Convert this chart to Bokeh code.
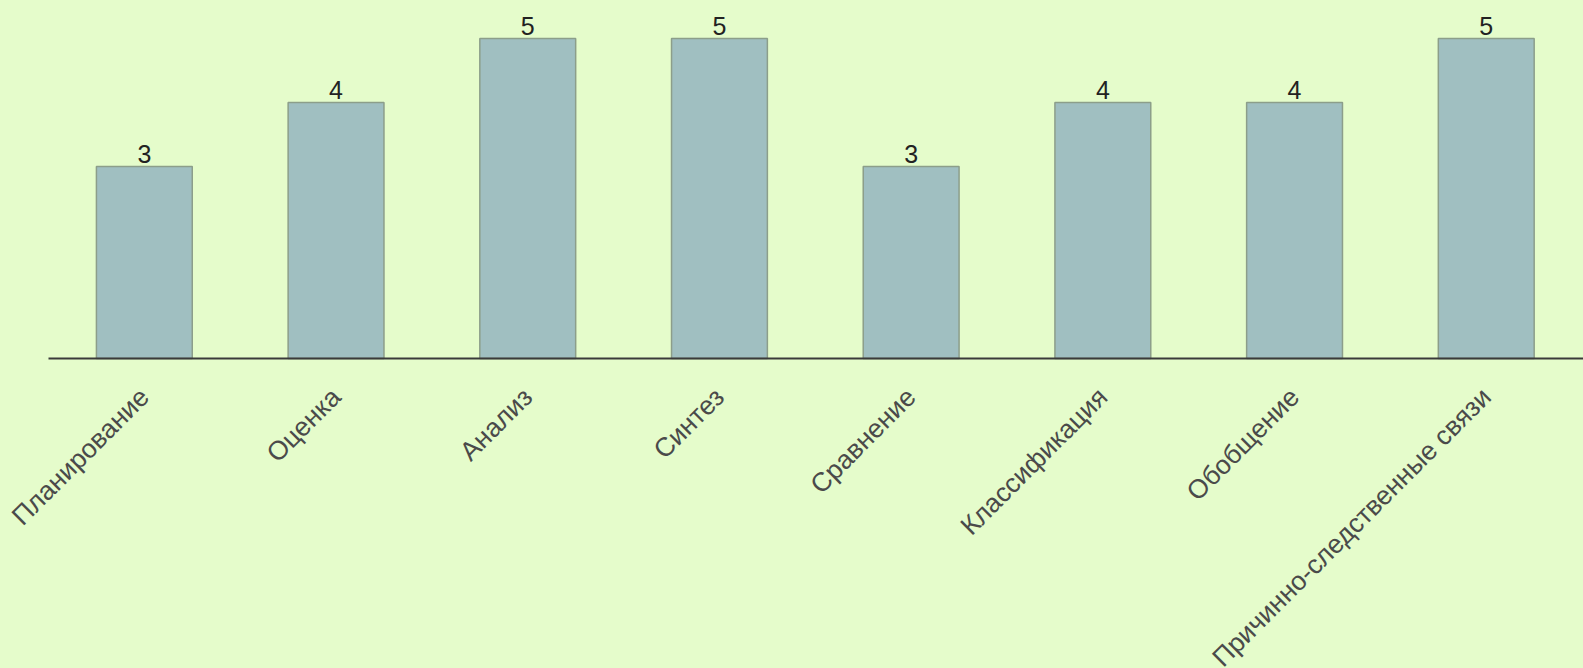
import math
from bokeh.plotting import figure
from bokeh.models import Range1d, ColumnDataSource, LabelSet
from bokeh.core.properties import value
from bokeh.embed import file_html
from bokeh.resources import INLINE

categories = ["Планирование", "Оценка", "Анализ", "Синтез", "Сравнение",
              "Классификация", "Обобщение", "Причинно-следственные связи"]
values = [3, 4, 5, 5, 3, 4, 4, 5]
value_labels = [str(v) for v in values]

n = len(categories)
xpos = [i + 0.5 for i in range(n)]          # category slot centres
baseline = [0] * n

BG = "#e5fccb"
source = ColumnDataSource(dict(x=xpos, cat=categories, val=values,
                               lab=value_labels, base=baseline))

W, H = 1583, 668
SLOT = 191.7          # pixels per category slot
LEFT = 48             # pixels of empty space left of first slot
UNIT = 64.0           # pixels per value unit
ZERO = 358            # pixel row of the baseline
x0 = -LEFT / SLOT
x1 = x0 + W / SLOT
p = figure(x_range=Range1d(x0, x1),
           y_range=Range1d(-(H - ZERO) / UNIT, ZERO / UNIT),
           width=W, height=H, output_backend="svg", toolbar_location=None,
           min_border_left=0, min_border_top=0, min_border_right=0, min_border_bottom=0)
p.background_fill_color = BG
p.border_fill_color = BG
p.outline_line_color = None
p.xgrid.visible = False
p.ygrid.visible = False
p.yaxis.visible = False
p.xaxis.visible = False

p.vbar(x="x", top="val", width=0.5, source=source,
       fill_color="#a0bfc1", line_color="#8c9e8a", line_width=1.5)

# baseline (category axis line), starting at the first slot's left edge
p.segment(x0=[0], y0=[0], x1=[x1], y1=[0],
          line_color="#3a3a3a", line_width=1.8)

# value labels above bars
p.add_layout(LabelSet(x="x", y="val", text="lab", source=source, y_offset=4,
                      text_align="center", text_baseline="alphabetic",
                      text_font_size="25px", text_color="#222222",
                      text_font=value("Liberation Sans")))

# slanted category labels below the baseline
p.add_layout(LabelSet(x="x", y="base", text="cat", source=source,
                      x_offset=0, y_offset=-34, angle=math.pi / 4,
                      text_align="right", text_baseline="middle",
                      text_font_size="26.5px", text_color="#4a4a4a",
                      text_font=value("Liberation Sans")))

html = file_html(p, INLINE)
html = html.replace("</head>",
                    "<style>html, body { background-color: %s; }</style></head>" % BG, 1)
open("out.html", "w").write(html)
